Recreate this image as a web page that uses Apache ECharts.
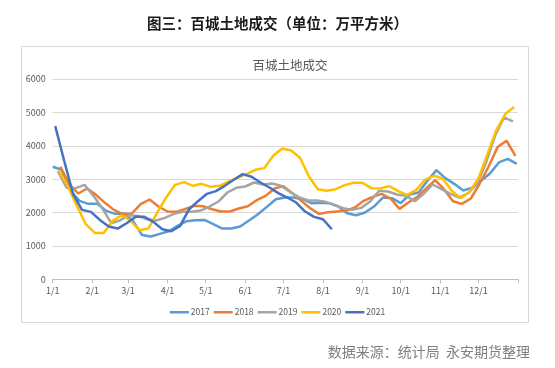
<!DOCTYPE html>
<html>
<head>
<meta charset="utf-8">
<script src="https://cdn.jsdelivr.net/npm/echarts@6/dist/echarts.min.js"></script>
<style>
html,body{margin:0;padding:0;background:#fff;}
#c{width:555px;height:368px;}
</style>
</head>
<body>
<div id="c"></div>
<script>
// Tick labels (month starts, day-of-year)
var monthLabels = ['1/1','2/1','3/1','4/1','5/1','6/1','7/1','8/1','9/1','10/1','11/1','12/1'];
var monthStartDays = [0,31,59,90,120,151,181,212,243,273,304,334];
var yearEndDay = 365;

var seriesNames = ['2017','2018','2019','2020','2021'];
// first week's day-of-year for each year (weekly data)
var startDays = [0, 6, 4, 5, 2];

var v2017 = [3370,3280,2650,2350,2260,2260,2050,1960,1970,1750,1330,1280,1360,1440,1600,1740,1770,1780,1650,1520,1520,1580,1760,1950,2170,2400,2450,2450,2400,2280,2290,2280,2180,1980,1920,2000,2180,2450,2430,2280,2540,2600,2950,3270,3030,2860,2660,2740,2950,3170,3500,3610,3460];
var v2018 = [3370,2850,2570,2720,2530,2290,2080,1950,1970,2250,2390,2180,2030,2020,2110,2200,2190,2100,2030,2030,2120,2190,2370,2500,2720,2790,2580,2350,2130,1960,2010,2030,2050,2150,2350,2470,2560,2420,2110,2300,2470,2720,2970,2700,2340,2260,2420,2870,3380,3960,4150,3700];
var v2019 = [3240,2740,2730,2830,2500,2120,1680,1770,1920,1900,1800,1760,1840,1960,2020,2025,2060,2180,2330,2600,2740,2780,2900,2840,2870,2800,2620,2460,2370,2360,2320,2230,2130,2080,2140,2330,2650,2630,2540,2500,2340,2560,2840,2700,2560,2450,2580,2870,3500,4300,4850,4730];
var v2020 = [3250,2780,2200,1650,1390,1390,1750,1920,1760,1470,1520,2000,2450,2830,2910,2800,2860,2770,2800,2930,3040,3150,3280,3330,3700,3920,3860,3640,3080,2700,2650,2700,2820,2890,2890,2730,2720,2790,2640,2530,2670,2980,3100,3020,2650,2430,2620,3030,3750,4470,4950,5160];
var v2021 = [4590,3550,2550,2080,2020,1780,1580,1520,1680,1870,1870,1720,1500,1440,1600,2100,2340,2560,2640,2800,2980,3150,3070,2900,2750,2580,2450,2300,2030,1870,1800,1500];

var allValues = [v2017, v2018, v2019, v2020, v2021];
var colors = ['#5B9BD5','#ED7D31','#A5A5A5','#FFC000','#4472C4'];

function toPairs(vals, start){
  var out = [];
  for (var i = 0; i < vals.length; i++) out.push([start + 7*i, vals[i]]);
  return out;
}

var series = seriesNames.map(function(n, idx){
  return {
    name: n, type: 'line', data: toPairs(allValues[idx], startDays[idx]),
    showSymbol: false, symbol: 'none', smooth: false,
    lineStyle: {width: 2.5, color: colors[idx]}, itemStyle: {color: colors[idx]},
    z: idx === 4 ? 5 : 2
  };
});

var chart = echarts.init(document.getElementById('c'), null, {renderer: 'canvas'});
var cjk = '"Noto Sans CJK SC", "Microsoft YaHei", sans-serif';
chart.setOption({
  animation: false,
  backgroundColor: '#fff',
  color: colors,
  title: [
    {text: '图三：百城土地成交（单位：万平方米）', left: 'center', top: 11,
     textStyle: {fontFamily: cjk, fontSize: 14.5, fontWeight: 'bold', color: '#1a1a1a'}},
    {text: '百城土地成交', left: 285, top: 54, textAlign: 'center',
     textStyle: {fontFamily: cjk, fontSize: 12.5, fontWeight: 'normal', color: '#595959'}},
    {text: '数据来源：统计局  永安期货整理', right: 20, top: 340,
     textStyle: {fontFamily: cjk, fontSize: 14, fontWeight: 'normal', color: '#7f7f7f'}}
  ],
  graphic: [{type: 'rect', shape: {x: 21.5, y: 46.5, width: 507, height: 276},
    style: {fill: 'none', stroke: '#d9d9d9', lineWidth: 1}, silent: true, z: -1}],
  legend: {
    data: seriesNames, left: 'center', top: 303, icon: 'rect',
    itemWidth: 19, itemHeight: 2.5, itemGap: 4,
    textStyle: {fontFamily: cjk, fontSize: 8.5, color: '#595959', padding: [0,0,0,-3]}
  },
  grid: {left: 52.7, right: 37, top: 79, bottom: 88.7, containLabel: false},
  xAxis: {
    type: 'value', min: 0, max: yearEndDay,
    splitLine: {show: false},
    axisLine: {show: true, lineStyle: {color: '#bfbfbf', width: 1}},
    axisTick: {show: true, length: 4, lineStyle: {color: '#bfbfbf'},
      customValues: monthStartDays.concat([yearEndDay])},
    axisLabel: {show: true, fontFamily: cjk, fontSize: 9, color: '#595959', margin: 7,
      customValues: monthStartDays,
      formatter: function(v){ var i = monthStartDays.indexOf(v); return i >= 0 ? monthLabels[i] : ''; }}
  },
  yAxis: {
    type: 'value', min: 0, max: 6000, interval: 1000,
    axisLine: {show: false}, axisTick: {show: false},
    splitLine: {show: true, lineStyle: {color: '#d9d9d9', width: 1}},
    axisLabel: {fontFamily: cjk, fontSize: 9, color: '#595959', margin: 7,
      formatter: function(v){ return String(v); }}
  },
  series: series
});
</script>
</body>
</html>
